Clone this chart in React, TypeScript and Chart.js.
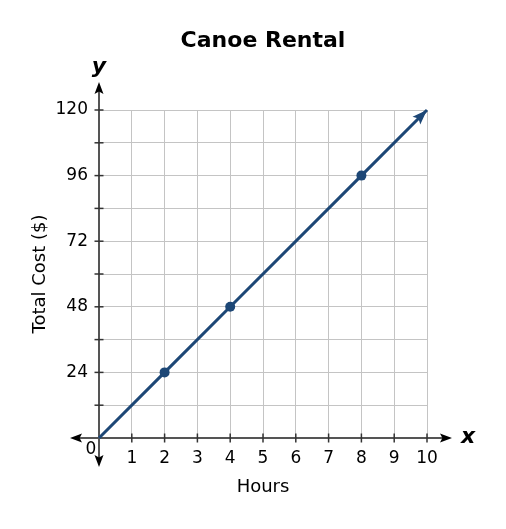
import React, { useEffect, useRef } from "react";
import { Chart, registerables } from "chart.js";

Chart.register(...registerables);

const title = "Canoe Rental";
const xTitle = "Hours";
const yTitle = "Total Cost ($)";
const hours = [0, 2, 4, 8, 10];
const cost = [0, 24, 48, 96, 120];
const markerRadius = [0, 5, 5, 5, 0];
const xMin = 0, xMax = 10, xStep = 1;
const yMin = 0, yMax = 120, yStep = 12, yLabelStep = 24;

const LINE = "#1d4776";
const AXIS = "#555555";
const GRID = "#c4c4c4";
const FONT = "'DejaVu Sans', Verdana, sans-serif";

function arrow(ctx: CanvasRenderingContext2D, x: number, y: number, ang: number, len: number, half: number) {
  ctx.save();
  ctx.translate(x, y);
  ctx.rotate(ang);
  ctx.beginPath();
  ctx.moveTo(0, 0);
  ctx.lineTo(-len, -half);
  ctx.lineTo(-len * 0.8, 0);
  ctx.lineTo(-len, half);
  ctx.closePath();
  ctx.fill();
  ctx.restore();
}

const decorPlugin = {
  id: "decor",
  beforeDatasetsDraw(chart: any) {
    const { ctx } = chart;
    const xs = chart.scales.x;
    const ys = chart.scales.y;
    const ox = xs.getPixelForValue(0);
    const oy = ys.getPixelForValue(0);
    ctx.save();
    ctx.strokeStyle = AXIS;
    ctx.fillStyle = "#000";
    ctx.lineWidth = 2;
    ctx.beginPath();
    ctx.moveTo(ox - 26, oy);
    ctx.lineTo(xs.right + 22, oy);
    ctx.stroke();
    ctx.beginPath();
    ctx.moveTo(ox, ys.top - 24);
    ctx.lineTo(ox, oy + 25);
    ctx.stroke();
    arrow(ctx, ox - 29, oy, Math.PI, 12, 4.5);
    arrow(ctx, xs.right + 25, oy, 0, 12, 4.5);
    arrow(ctx, ox, ys.top - 28, -Math.PI / 2, 12, 4.5);
    arrow(ctx, ox, oy + 29, Math.PI / 2, 12, 4.5);
    ctx.lineWidth = 1.5;
    ctx.strokeStyle = "#333";
    for (let v = xMin + xStep; v <= xMax; v += xStep) {
      const px = xs.getPixelForValue(v);
      ctx.beginPath();
      ctx.moveTo(px, oy - 4.5);
      ctx.lineTo(px, oy + 4.5);
      ctx.stroke();
    }
    for (let v = yMin + yStep; v <= yMax; v += yStep) {
      const py = ys.getPixelForValue(v);
      ctx.beginPath();
      ctx.moveTo(ox - 4.5, py);
      ctx.lineTo(ox + 4.5, py);
      ctx.stroke();
    }
    ctx.restore();
  },
  afterDatasetsDraw(chart: any) {
    const { ctx, chartArea } = chart;
    const xs = chart.scales.x;
    const ys = chart.scales.y;
    const n = hours.length;
    const x1 = xs.getPixelForValue(hours[n - 2]);
    const y1 = ys.getPixelForValue(cost[n - 2]);
    const x2 = xs.getPixelForValue(hours[n - 1]);
    const y2 = ys.getPixelForValue(cost[n - 1]);
    ctx.save();
    ctx.fillStyle = LINE;
    arrow(ctx, x2, y2, Math.atan2(y2 - y1, x2 - x1), 15, 5.5);
    ctx.fillStyle = "#000";
    ctx.font = `17px ${FONT}`;
    ctx.textAlign = "center";
    ctx.textBaseline = "middle";
    ctx.fillText("0", xs.getPixelForValue(0) - 8, ys.getPixelForValue(0) + 12);
    ctx.font = `italic bold 22px ${FONT}`;
    ctx.fillText("y", xs.getPixelForValue(0), chartArea.top - 43);
    ctx.fillText("x", xs.right + 41, ys.getPixelForValue(0) - 1);
    ctx.font = `bold 22px ${FONT}`;
    ctx.fillText(title, (chartArea.left + chartArea.right) / 2, 41);
    ctx.restore();
  },
};

export default function App() {
  const ref = useRef<HTMLCanvasElement>(null);
  useEffect(() => {
    if (!ref.current) return;
    const chart = new Chart(ref.current, {
      type: "scatter",
      data: {
        datasets: [
          {
            data: hours.map((h, i) => ({ x: h, y: cost[i] })),
            showLine: true,
            borderColor: LINE,
            backgroundColor: LINE,
            borderWidth: 3,
            pointRadius: markerRadius,
            pointHoverRadius: markerRadius,
            pointBorderWidth: 0,
            clip: false,
          } as any,
        ],
      },
      options: {
        animation: false,
        responsive: false,
        events: [],
        layout: { padding: { top: 110, right: 79, bottom: 0, left: 0 } },
        plugins: { legend: { display: false }, tooltip: { enabled: false }, title: { display: false } },
        scales: {
          x: {
            type: "linear",
            min: xMin,
            max: xMax,
            afterFit: (s: any) => { s.height = 91; },
            border: { display: false },
            grid: { color: GRID, lineWidth: 1, drawTicks: false },
            ticks: {
              stepSize: xStep,
              padding: 10,
              color: "#000",
              font: { family: FONT, size: 17 },
              maxRotation: 0,
              autoSkip: false,
              callback: (v: any) => (v === 0 ? "" : String(v)),
            },
            title: { display: true, text: xTitle, color: "#000", font: { family: FONT, size: 18 }, padding: { top: 0, bottom: 31 } },
          },
          y: {
            type: "linear",
            min: yMin,
            max: yMax,
            afterFit: (s: any) => { s.width = 99; },
            border: { display: false },
            grid: { color: GRID, lineWidth: 1, drawTicks: false },
            ticks: {
              stepSize: yStep,
              padding: 11,
              color: "#000",
              font: { family: FONT, size: 17 },
              autoSkip: false,
              callback: (v: any) => (v !== 0 && v % yLabelStep === 0 ? String(v) : ""),
            },
            title: { display: true, text: yTitle, color: "#000", font: { family: FONT, size: 18 }, padding: { top: 30, bottom: 0 } },
          },
        },
      },
      plugins: [decorPlugin],
    });
    return () => chart.destroy();
  }, []);
  return (
    <div style={{ position: "absolute", left: 0, top: 0, width: 506, height: 529, background: "#fff" }}>
      <canvas ref={ref} width={506} height={529} style={{ display: "block" }} />
    </div>
  );
}
